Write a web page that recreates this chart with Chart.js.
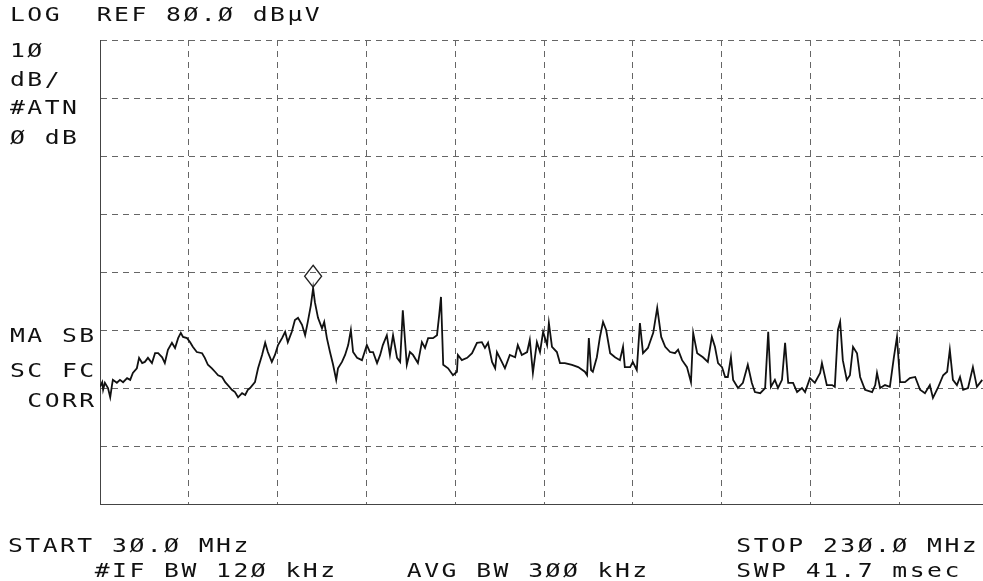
<!DOCTYPE html>
<html>
<head>
<meta charset="utf-8">
<script src="https://cdn.jsdelivr.net/npm/chart.js@4/dist/chart.umd.min.js"></script>
<style>
  html, body { margin: 0; padding: 0; background: #fff; overflow: hidden; }
  #wrap { position: relative; width: 995px; height: 581px; }
  .lbl {
    position: absolute;
    font-family: "DejaVu Sans Mono", monospace;
    font-size: 19px;
    letter-spacing: 1.9px;
    white-space: pre;
    color: #111;
    line-height: 20px;
    transform: scaleX(1.3);
    transform-origin: left top;
  }
</style>
</head>
<body>
<div id="wrap">
  <canvas id="spectrum"></canvas>
  <div class="lbl" style="left:10px; top:4px;">LOG  REF 8Ø.Ø dBµV</div>
  <div class="lbl" style="left:10px; top:40px;">1Ø</div>
  <div class="lbl" style="left:10px; top:69px;">dB/</div>
  <div class="lbl" style="left:10px; top:97px;">#ATN</div>
  <div class="lbl" style="left:10px; top:127px;">Ø dB</div>
  <div class="lbl" style="left:10px; top:325px;">MA SB</div>
  <div class="lbl" style="left:10px; top:360px;">SC FC</div>
  <div class="lbl" style="left:10px; top:390px;"> CORR</div>
  <div class="lbl" style="left:8px; top:535px;">START 3Ø.Ø MHz                            STOP 23Ø.Ø MHz</div>
  <div class="lbl" style="left:8px; top:560px;">     #IF BW 12Ø kHz    AVG BW 3ØØ kHz     SWP 41.7 msec</div>
</div>
<script>
// sweep 30 - 230 MHz, reference level 80 dBuV, 10 dB/div
const freqMHz = [
  30.0, 30.5, 30.7, 31.1, 31.8, 32.3, 32.7, 32.9, 33.8, 34.5, 35.2, 36.1, 36.8, 37.4, 38.3, 38.8,
  39.5, 40.1, 40.8, 41.7, 42.4, 43.1, 44.0, 44.6, 45.3, 46.2, 46.9, 47.6, 48.2, 48.7, 49.6, 50.3,
  50.9, 51.8, 53.0, 53.6, 54.3, 55.2, 55.9, 56.6, 57.5, 58.2, 58.8, 59.7, 60.4, 61.1, 62.0, 62.7,
  63.3, 63.8, 64.9, 65.6, 66.5, 67.2, 67.8, 68.7, 69.4, 70.1, 71.0, 71.7, 72.3, 73.2, 73.9, 74.6,
  75.5, 76.2, 76.8, 77.5, 78.0, 78.4, 79.1, 80.0, 80.5, 81.1, 81.8, 82.5, 83.2, 83.6, 84.5, 85.2,
  85.9, 86.5, 87.0, 87.9, 89.0, 90.1, 90.8, 91.5, 92.4, 93.1, 93.7, 94.6, 95.3, 96.0, 96.9, 97.6,
  98.2, 99.1, 99.8, 100.5, 101.6, 102.5, 103.2, 103.9, 105.0, 105.9, 106.4, 106.8, 107.3, 108.4, 109.5, 110.4,
  110.6, 111.5, 112.7, 113.8, 114.9, 116.0, 116.7, 117.4, 118.3, 119.0, 119.4, 120.5, 121.2, 122.3, 123.5, 124.1,
  125.0, 126.2, 126.8, 127.5, 128.4, 129.1, 129.8, 130.7, 131.1, 131.8, 132.9, 133.6, 134.7, 136.3, 137.7, 139.2,
  139.7, 140.1, 140.6, 141.0, 141.9, 142.6, 143.3, 144.0, 144.9, 146.0, 147.1, 147.8, 148.2, 149.4, 150.0, 150.9,
  151.6, 152.3, 153.4, 154.6, 155.5, 156.4, 157.3, 158.4, 159.5, 160.2, 161.1, 162.2, 163.1, 163.6, 164.5, 165.8,
  166.9, 167.8, 168.5, 169.2, 170.1, 170.8, 171.4, 172.1, 172.6, 173.7, 174.8, 175.9, 176.8, 177.5, 178.7, 179.8,
  180.5, 181.1, 182.0, 182.7, 183.6, 184.3, 185.0, 186.1, 187.0, 188.1, 188.8, 189.9, 191.0, 192.2, 192.6, 193.7,
  194.9, 195.5, 196.2, 196.7, 197.3, 198.2, 198.9, 199.6, 200.5, 201.2, 202.3, 203.9, 204.6, 205.0, 205.7, 206.8,
  207.9, 208.8, 209.5, 210.2, 211.3, 212.4, 213.6, 214.7, 215.8, 216.9, 217.6, 218.7, 219.9, 220.8, 221.4, 222.1,
  223.0, 223.7, 224.4, 225.5, 226.6, 227.5, 228.7
];

const levelDb = [
  20.2, 21.0, 19.7, 20.9, 20.0, 18.4, 20.5, 21.4, 20.9, 21.4, 21.0, 21.7, 21.4, 22.6, 23.4, 25.2,
  24.3, 24.5, 25.2, 24.3, 26.0, 26.0, 25.3, 24.3, 26.6, 27.8, 26.9, 28.6, 29.5, 28.8, 28.6, 27.9,
  27.1, 26.2, 26.0, 25.2, 24.0, 23.4, 22.8, 22.2, 21.9, 21.0, 20.5, 19.7, 19.3, 18.4, 19.1, 18.8,
  19.7, 20.0, 21.0, 23.4, 25.7, 27.8, 26.2, 24.5, 25.7, 27.4, 28.6, 29.7, 27.9, 29.7, 31.7, 32.1,
  30.9, 29.1, 31.4, 34.3, 37.2, 34.8, 32.1, 30.3, 31.4, 28.6, 26.2, 24.0, 21.4, 23.4, 24.5, 25.7,
  27.4, 30.0, 26.2, 25.2, 24.8, 27.4, 26.2, 26.2, 24.3, 25.7, 27.4, 29.1, 25.7, 29.1, 25.2, 24.5,
  33.4, 24.0, 26.2, 25.7, 24.3, 27.9, 26.9, 28.6, 28.6, 29.1, 32.6, 35.7, 24.0, 23.4, 22.2, 22.8,
  25.7, 24.8, 25.2, 26.0, 27.8, 27.9, 26.9, 27.8, 24.5, 23.4, 26.2, 24.5, 23.4, 25.7, 25.3, 27.4,
  25.7, 26.2, 28.3, 22.6, 27.9, 26.2, 29.7, 27.4, 31.2, 27.1, 26.2, 24.3, 24.3, 24.0, 23.6, 22.8,
  22.2, 28.6, 23.1, 22.8, 25.3, 28.8, 31.4, 30.0, 26.0, 25.3, 24.8, 27.1, 23.6, 23.6, 24.5, 23.1,
  31.2, 26.0, 26.9, 29.5, 33.8, 28.8, 27.1, 26.2, 26.0, 26.6, 24.8, 23.6, 21.0, 29.5, 26.0, 25.3,
  24.5, 28.8, 27.1, 24.3, 23.6, 21.9, 21.9, 25.3, 21.4, 20.0, 20.9, 24.0, 20.9, 19.3, 19.1, 20.0,
  29.7, 20.2, 21.4, 20.0, 21.4, 27.8, 20.9, 20.9, 19.3, 20.0, 19.3, 21.7, 20.9, 22.6, 24.3, 20.5,
  20.5, 20.2, 30.0, 31.4, 24.8, 21.4, 22.2, 27.1, 26.0, 21.9, 19.7, 19.3, 20.5, 22.6, 20.0, 20.5,
  20.2, 25.3, 28.8, 21.0, 21.0, 21.7, 21.9, 19.7, 19.1, 20.5, 18.3, 20.0, 22.2, 22.8, 26.6, 21.4,
  20.5, 21.9, 19.7, 20.0, 23.6, 20.2, 21.4
];

// marker (diamond) sits on the highest peak
const markerFreq = [78.0];
const markerDb = [37.2];

const xTicks = [30, 50, 70, 90, 110, 130, 150, 170, 190, 210, 230];
const yTicks = [0, 10, 20, 30, 40, 50, 60, 70, 80];

const traceData = freqMHz.map(function (f, i) { return { x: f, y: levelDb[i] }; });

// draws the marker diamond just above its point
const diamondMarker = {
    id: "diamondMarker",
    afterDatasetsDraw: function (chart) {
        const ctx = chart.ctx;
        const xs = chart.scales.x, ys = chart.scales.y;
        ctx.save();
        ctx.strokeStyle = "#222";
        ctx.lineWidth = 1.3;
        markerFreq.forEach(function (f, i) {
            const px = xs.getPixelForValue(f);
            const py = ys.getPixelForValue(markerDb[i]);
            const cy = py - 12;
            ctx.beginPath();
            ctx.moveTo(px, cy - 11);
            ctx.lineTo(px + 8.5, cy);
            ctx.lineTo(px, cy + 11);
            ctx.lineTo(px - 8.5, cy);
            ctx.closePath();
            ctx.stroke();
        });
        ctx.restore();
    }
};

let ctx = document.getElementById("spectrum").getContext("2d");

new Chart(ctx, {
    type: "line",
    data: {
        datasets: [{
            label: "Trace A",
            data: traceData,
            borderColor: "#111",
            borderWidth: 1.8,
            pointRadius: 0,
            tension: 0,
            fill: false
        }]
    },
    options: {
        responsive: true,
        maintainAspectRatio: false,
        animation: false,
        layout: { padding: { left: 100, right: 7, top: 40, bottom: 77 } },
        plugins: {
            legend: { display: false },
            tooltip: { enabled: false }
        },
        scales: {
            x: {
                type: "linear",
                min: 30,
                max: 230,
                afterBuildTicks: function (s) { s.ticks = xTicks.map(function (v) { return { value: v }; }); },
                afterFit: function (s) { s.height = 0; },
                ticks: { display: false },
                grid: { color: "#666", lineWidth: 1, drawTicks: false },
                border: { display: true, color: "#444", dash: [6, 5] }
            },
            y: {
                min: 0,
                max: 80,
                afterBuildTicks: function (s) { s.ticks = yTicks.map(function (v) { return { value: v }; }); },
                afterFit: function (s) { s.width = 0; },
                ticks: { display: false },
                grid: { color: "#666", lineWidth: 1, drawTicks: false },
                border: { display: true, color: "#444", dash: [6, 5] }
            }
        }
    },
    plugins: [diamondMarker]
});
</script>
</body>
</html>
